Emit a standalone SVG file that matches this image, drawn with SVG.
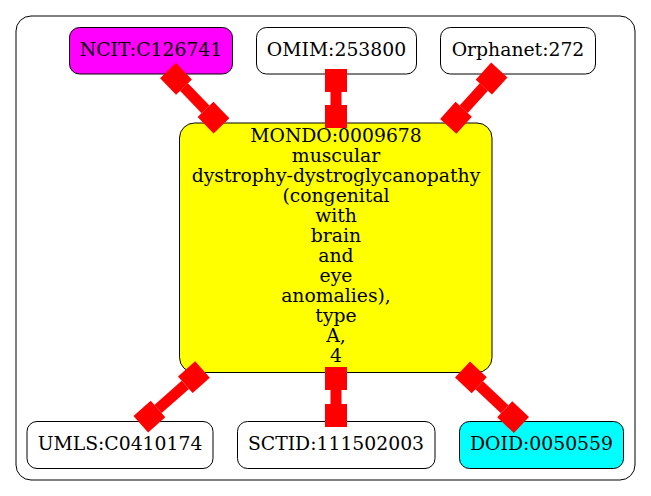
<svg xmlns="http://www.w3.org/2000/svg" width="651" height="496" viewBox="0 0 651 496">
<style>
text{font-family:"DejaVu Serif","Liberation Serif",serif;font-size:18.8px;fill:#000;text-anchor:middle}
.n{stroke:#000;stroke-width:1}
.e rect{fill:#ff0000}
</style>
<rect width="651" height="496" fill="#fff"/>
<rect x="16" y="16" width="619" height="464" rx="15" fill="none" stroke="#000" stroke-width="1"/>
<g id="ncit"><rect class="n" x="69.5" y="27.5" width="163" height="46.5" rx="10" fill="#ff00ff"/><text x="151" y="56">NCIT:C126741</text></g>
<g id="omim"><rect class="n" x="256.5" y="27.5" width="160" height="46.5" rx="10" fill="#fff"/><text x="336.5" y="56">OMIM:253800</text></g>
<g id="orphanet"><rect class="n" x="440.5" y="27.5" width="155" height="46.5" rx="10" fill="#fff"/><text x="518" y="56">Orphanet:272</text></g>
<g id="mondo"><rect class="n" x="179.5" y="123" width="312.5" height="249.5" rx="15" fill="#ffff00"/>
<text x="336" y="142">MONDO:0009678</text>
<text x="336" y="162">muscular</text>
<text x="336" y="182">dystrophy-dystroglycanopathy</text>
<text x="336" y="202">(congenital</text>
<text x="336" y="222">with</text>
<text x="336" y="242">brain</text>
<text x="336" y="262">and</text>
<text x="336" y="282">eye</text>
<text x="336" y="302">anomalies),</text>
<text x="336" y="322">type</text>
<text x="336" y="342">A,</text>
<text x="336" y="362">4</text>
</g>
<g id="umls"><rect class="n" x="27" y="421.5" width="186" height="47" rx="10" fill="#fff"/><text x="120" y="450">UMLS:C0410174</text></g>
<g id="sctid"><rect class="n" x="237.5" y="421.5" width="197.5" height="47" rx="10" fill="#fff"/><text x="336" y="450">SCTID:111502003</text></g>
<g id="doid"><rect class="n" x="459.5" y="421.5" width="164" height="47" rx="10" fill="#00ffff"/><text x="541.5" y="450">DOID:0050559</text></g>
<g id="connectors" class="e">
<g transform="translate(168,70.5) rotate(46)"><rect x="0" y="-11" width="23" height="22"/><rect x="23" y="-5.5" width="31" height="11"/><rect x="54" y="-11" width="23" height="22"/></g>
<g transform="translate(336,69) rotate(90)"><rect x="0" y="-11" width="23" height="22"/><rect x="23" y="-5.5" width="13" height="11"/><rect x="36" y="-11" width="23" height="22"/></g>
<g transform="translate(499.3,70) rotate(132.2)"><rect x="0" y="-11" width="23" height="22"/><rect x="23" y="-5.5" width="30" height="11"/><rect x="53" y="-11" width="23" height="22"/></g>
<g transform="translate(202.5,369.5) rotate(138.4)"><rect x="0" y="-11" width="23" height="22"/><rect x="23" y="-5.5" width="36.5" height="11"/><rect x="59.5" y="-11" width="23" height="22"/></g>
<g transform="translate(336,367) rotate(90)"><rect x="0" y="-11" width="23" height="22"/><rect x="23" y="-5.5" width="14" height="11"/><rect x="37" y="-11" width="23" height="22"/></g>
<g transform="translate(462.5,369.5) rotate(43.3)"><rect x="0" y="-11" width="23" height="22"/><rect x="23" y="-5.5" width="35" height="11"/><rect x="58" y="-11" width="23" height="22"/></g>
</g>
</svg>
